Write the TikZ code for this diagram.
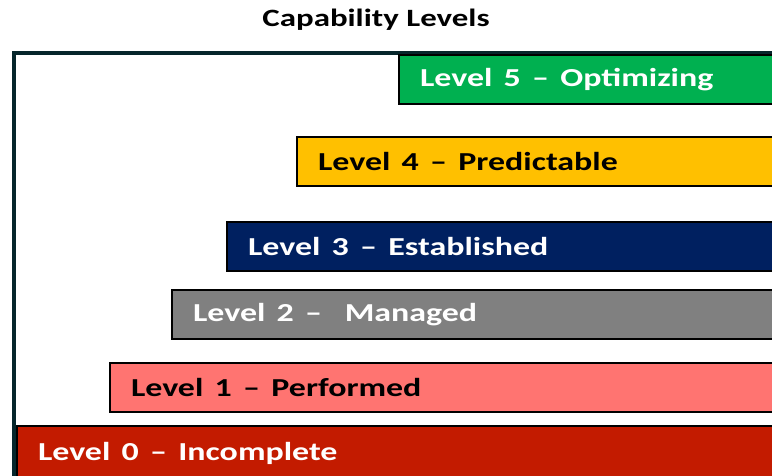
\documentclass[tikz,border=0pt]{standalone}
\usepackage{fontspec}
\usepackage{graphicx}
\setmainfont{Carlito}
\newcommand{\stretchtxt}[1]{\scalebox{1.31}[1]{#1}}
\definecolor{frameC}{HTML}{06262B}
\definecolor{c5}{HTML}{00B050}
\definecolor{c4}{HTML}{FFC000}
\definecolor{c3}{HTML}{002060}
\definecolor{c2}{HTML}{808080}
\definecolor{c1}{HTML}{FF7471}
\definecolor{c0}{HTML}{C31B00}
\begin{document}
\begin{tikzpicture}[x=1bp,y=-1bp,
  lvl/.style={draw=black, line width=2bp, rectangle, anchor=north west,
    minimum height=49bp, inner xsep=21bp, inner ysep=0pt, align=left,
    font=\bfseries\fontsize{26}{30}\selectfont},
  ttl/.style={font=\bfseries\fontsize{25}{28}\selectfont}]
\useasboundingbox (0,0) rectangle (772,476);
\begin{scope}
\clip (0,0) rectangle (772,476);
\draw[frameC, line width=4bp] (14,480) -- (14,53) -- (790,53);
\node[lvl, fill=c5, text=white, text width=350bp] (l5) at (398,54) {\stretchtxt{Level 5 -- Optimizing}};
\node[lvl, fill=c4, text=black, text width=452bp] (l4) at (296,136) {\stretchtxt{Level 4 -- Predictable}};
\node[lvl, fill=c3, text=white, text width=522bp] (l3) at (226,221) {\stretchtxt{Level 3 -- Established}};
\node[lvl, fill=c2, text=white, text width=577bp] (l2) at (171,289) {\stretchtxt{Level 2 --\ \ Managed}};
\node[lvl, fill=c1, text=black, text width=639bp] (l1) at (109,362) {\stretchtxt{Level 1 -- Performed}};
\node[lvl, fill=c0, text=white, text width=732bp, minimum height=54bp] (l0) at (16,425) {\stretchtxt{Level 0 -- Incomplete}};
\end{scope}
\node[ttl] (title) at (376,20) {\scalebox{1.32}[1]{Capability Levels}};
\end{tikzpicture}
\end{document}
